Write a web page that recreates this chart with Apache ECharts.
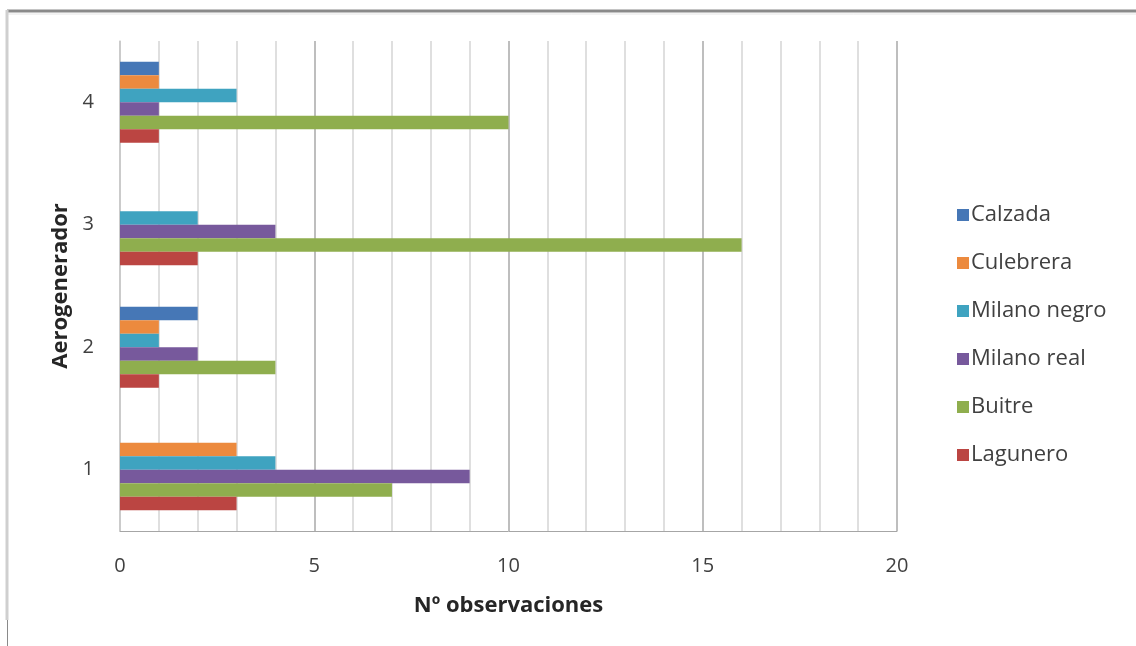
<!DOCTYPE html>
<html>
<head>
<meta charset="utf-8">
<script src="https://cdn.jsdelivr.net/npm/echarts@6/dist/echarts.min.js"></script>
<style>
  html, body { margin: 0; padding: 0; background: #fff; }
  #chart { width: 1136px; height: 646px; }
</style>
</head>
<body>
<div id="chart"></div>
<script>
// Observations per wind turbine, by species
const categories = ['1', '2', '3', '4'];
const lagunero    = [3, 1, 2, 1];
const buitre      = [7, 4, 16, 10];
const milanoReal  = [9, 2, 4, 1];
const milanoNegro = [4, 1, 2, 3];
const culebrera   = [3, 1, 0, 1];
const calzada     = [0, 2, 0, 1];

// first series sits at the top of each group
const seriesDefs = [
  { name: 'Calzada',      data: calzada,     color: '#4677b6' },
  { name: 'Culebrera',    data: culebrera,   color: '#ec8a3e' },
  { name: 'Milano negro', data: milanoNegro, color: '#3fa3c0' },
  { name: 'Milano real',  data: milanoReal,  color: '#77599c' },
  { name: 'Buitre',       data: buitre,      color: '#8fae4e' },
  { name: 'Lagunero',     data: lagunero,    color: '#bb4542' }
];
const legendOrder = ['Calzada', 'Culebrera', 'Milano negro', 'Milano real', 'Buitre', 'Lagunero'];

const FONT = '"Open Sans", Lato, sans-serif';
const chart = echarts.init(document.getElementById('chart'), null, { renderer: 'canvas' });

chart.setOption({
  animation: false,
  backgroundColor: '#ffffff',
  textStyle: { fontFamily: FONT },
  grid: { left: 120, right: 239, top: 41, bottom: 115, containLabel: false },
  legend: {
    data: legendOrder,
    orient: 'vertical',
    left: 952,
    top: 199,
    itemWidth: 12,
    itemHeight: 12,
    itemGap: 26,
    icon: 'rect',
    textStyle: { fontFamily: FONT, fontSize: 22, color: '#404040', padding: [0, 0, 0, -3] }
  },
  xAxis: {
    type: 'value',
    min: 0,
    max: 20,
    interval: 1,
    name: 'Nº observaciones',
    nameLocation: 'middle',
    nameGap: 64,
    nameTextStyle: { fontFamily: FONT, fontSize: 22, fontWeight: 'bold', color: '#262626' },
    axisLine: { show: true, lineStyle: { color: '#a6a6a6', width: 1 } },
    axisTick: { show: false },
    axisLabel: {
      fontFamily: FONT, fontSize: 20, color: '#404040', margin: 25,
      formatter: v => (v % 5 === 0 ? String(v) : '')
    },
    splitLine: {
      show: true,
      lineStyle: { color: ['#a8a8a8', '#d4d4d4', '#d4d4d4', '#d4d4d4', '#d4d4d4'], width: 1.5 }
    }
  },
  yAxis: {
    type: 'category',
    data: categories,
    name: 'Aerogenerador',
    nameLocation: 'middle',
    nameGap: 48,
    nameTextStyle: { fontFamily: FONT, fontSize: 22, fontWeight: 'bold', color: '#262626' },
    axisLine: { show: true, lineStyle: { color: '#cfcfcf', width: 1.5 } },
    axisTick: { show: false },
    axisLabel: { fontFamily: FONT, fontSize: 20, color: '#404040', margin: 26 },
    splitLine: { show: false }
  },
  series: seriesDefs.map(s => ({
    name: s.name,
    type: 'bar',
    data: s.data,
    barGap: '0%',
    barCategoryGap: '34%',
    itemStyle: { color: s.color },
    emphasis: { disabled: true }
  })),
  graphic: [
    // outer frame
    { type: 'line', shape: { x1: 7, y1: 11, x2: 1136, y2: 11 }, style: { stroke: '#8a8a8a', lineWidth: 3 }, silent: true },
    { type: 'line', shape: { x1: 7, y1: 14, x2: 1136, y2: 14 }, style: { stroke: '#e6e6e6', lineWidth: 1 }, silent: true },
    { type: 'line', shape: { x1: 7, y1: 10, x2: 7, y2: 620 }, style: { stroke: '#cfcfcf', lineWidth: 3 }, silent: true },
    { type: 'line', shape: { x1: 7.5, y1: 620, x2: 7.5, y2: 646 }, style: { stroke: '#8a8a8a', lineWidth: 1 }, silent: true }
  ]
});
</script>
</body>
</html>
